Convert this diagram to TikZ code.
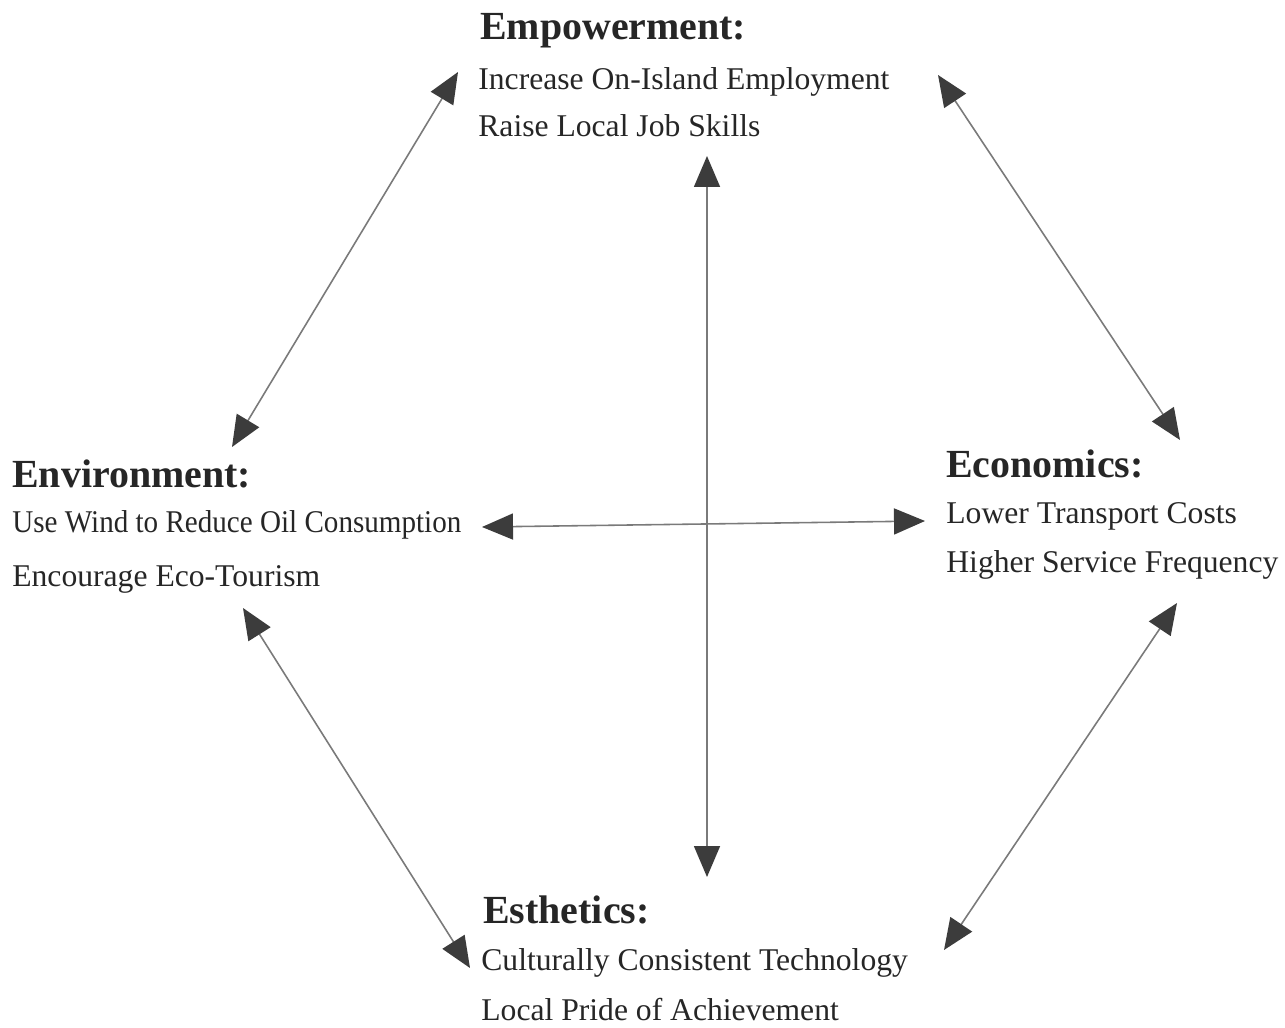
\documentclass[tikz,border=0pt]{standalone}
\usepackage{fontspec}
\setmainfont{Liberation Serif}
\usetikzlibrary{arrows.meta}
\definecolor{linegray}{HTML}{7A7A7A}
\definecolor{headgray}{HTML}{3C3C3C}
\begin{document}
\begin{tikzpicture}[
  title/.style={anchor=base west, inner sep=0pt, font=\fontsize{22.7pt}{26pt}\selectfont\bfseries, text=black!85},
  item/.style={anchor=base west, inner sep=0pt, font=\fontsize{18pt}{21pt}\selectfont, text=black!85},
  link/.style={draw=linegray, line width=0.9pt,
    {Triangle[length=0.62cm, width=0.52cm, color=headgray]}-{Triangle[length=0.62cm, width=0.52cm, color=headgray]}}
]
\useasboundingbox (0,0) rectangle (25.7,-20.56);
\fill[white] (0,0) rectangle (25.7,-20.56);

% texts
\node[title] (emp) at (9.6,-0.8) {Empowerment:};
\node[item] (emp1) at (9.56,-1.8) {Increase On-Island Employment};
\node[item] (emp2) at (9.56,-2.74) {Raise Local Job Skills};

\node[title] (env) at (0.24,-9.74) {Environment:};
\node[item] (env1) at (0.24,-10.64) {\scalebox{0.92}[1]{Use Wind to Reduce Oil Consumption}};
\node[item] (env2) at (0.24,-11.72) {Encourage Eco-Tourism};

\node[title] (eco) at (18.92,-9.54) {Economics:};
\node[item] (eco1) at (18.92,-10.46) {Lower Transport Costs};
\node[item] (eco2) at (18.92,-11.44) {Higher Service Frequency};

\node[title] (est) at (9.66,-18.46) {Esthetics:};
\node[item] (est1) at (9.62,-19.4) {Culturally Consistent Technology};
\node[item] (est2) at (9.62,-20.4) {Local Pride of Achievement};

% arrow end points
\coordinate (a1t) at (9.16,-1.44);
\coordinate (a1b) at (4.64,-8.94);
\coordinate (a2t) at (18.76,-1.5);
\coordinate (a2b) at (23.6,-8.8);
\coordinate (vt) at (14.14,-3.12);
\coordinate (vb) at (14.14,-17.54);
\coordinate (hl) at (9.64,-10.54);
\coordinate (hr) at (18.5,-10.42);
\coordinate (b1t) at (4.86,-12.16);
\coordinate (b1b) at (9.4,-19.36);
\coordinate (b2t) at (23.54,-12.06);
\coordinate (b2b) at (18.88,-19.0);

\draw[link] (a1t) -- (a1b);
\draw[link] (a2t) -- (a2b);
\draw[link] (vt) -- (vb);
\draw[link] (hl) -- (hr);
\draw[link] (b1t) -- (b1b);
\draw[link] (b2t) -- (b2b);
\end{tikzpicture}
\end{document}
